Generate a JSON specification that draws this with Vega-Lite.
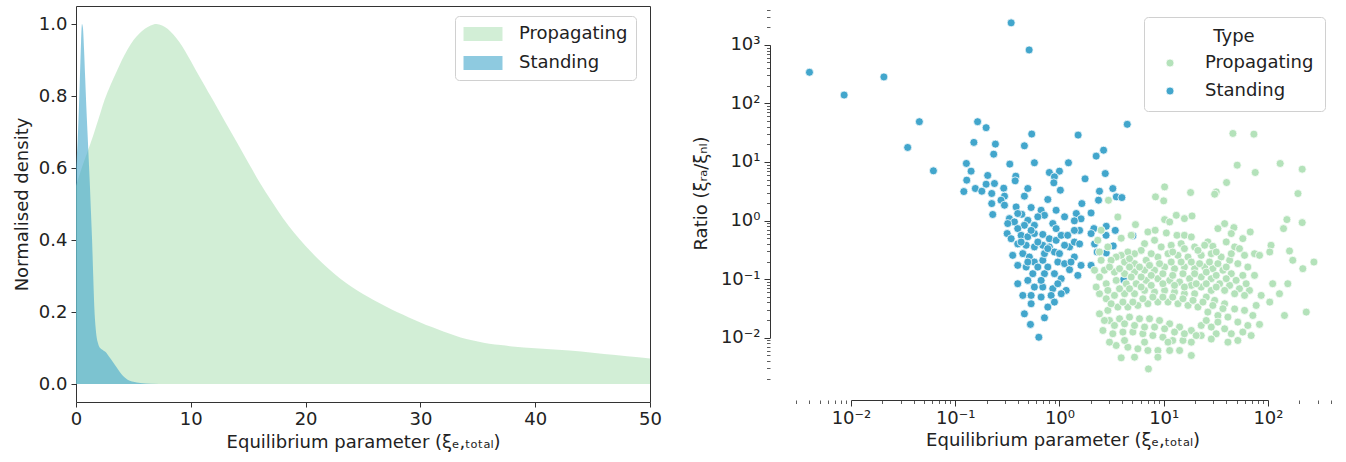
{
"$schema": "https://vega.github.io/schema/vega-lite/v6.json",
"padding": {"left": 12, "top": 0, "right": 5, "bottom": 2},
"bounds": "flush",
"spacing": 141,
"config": {
 "font": "DejaVu Sans",
 "axis": {"labelFont": "DejaVu Sans", "titleFont": "DejaVu Sans", "labelFontSize": 18, "titleFontSize": 18, "titleFontWeight": "normal", "labelColor": "#222", "titleColor": "#222", "tickColor": "#333", "domainColor": "#333", "grid": false, "labelFlush": false, "labelOverlap": false},
 "legend": {"labelFont": "DejaVu Sans", "titleFont": "DejaVu Sans", "labelFontSize": 18, "titleFontSize": 18, "titleFontWeight": "normal", "labelColor": "#222", "titleColor": "#222"}
},
"datasets": {
 "density": [
  {"x":0,"density":0.55,"Type":"Propagating"},{"x":0.5,"density":0.6,"Type":"Propagating"},{"x":1,"density":0.645,"Type":"Propagating"},{"x":1.5,"density":0.69,"Type":"Propagating"},{"x":2,"density":0.74,"Type":"Propagating"},{"x":2.5,"density":0.79,"Type":"Propagating"},{"x":3,"density":0.83,"Type":"Propagating"},{"x":3.5,"density":0.865,"Type":"Propagating"},{"x":4,"density":0.9,"Type":"Propagating"},{"x":4.5,"density":0.93,"Type":"Propagating"},{"x":5,"density":0.955,"Type":"Propagating"},{"x":5.5,"density":0.973,"Type":"Propagating"},{"x":6,"density":0.987,"Type":"Propagating"},{"x":6.5,"density":0.996,"Type":"Propagating"},{"x":7,"density":1.0,"Type":"Propagating"},{"x":7.5,"density":0.996,"Type":"Propagating"},{"x":8,"density":0.986,"Type":"Propagating"},{"x":8.5,"density":0.97,"Type":"Propagating"},{"x":9,"density":0.95,"Type":"Propagating"},{"x":9.5,"density":0.925,"Type":"Propagating"},{"x":10,"density":0.897,"Type":"Propagating"},{"x":10.5,"density":0.868,"Type":"Propagating"},{"x":11,"density":0.84,"Type":"Propagating"},{"x":11.5,"density":0.812,"Type":"Propagating"},{"x":12,"density":0.785,"Type":"Propagating"},{"x":13,"density":0.728,"Type":"Propagating"},{"x":14,"density":0.672,"Type":"Propagating"},{"x":15,"density":0.615,"Type":"Propagating"},{"x":16,"density":0.56,"Type":"Propagating"},{"x":17,"density":0.51,"Type":"Propagating"},{"x":18,"density":0.462,"Type":"Propagating"},{"x":19,"density":0.42,"Type":"Propagating"},{"x":20,"density":0.383,"Type":"Propagating"},{"x":21,"density":0.35,"Type":"Propagating"},{"x":22,"density":0.32,"Type":"Propagating"},{"x":23,"density":0.293,"Type":"Propagating"},{"x":24,"density":0.27,"Type":"Propagating"},{"x":25,"density":0.25,"Type":"Propagating"},{"x":26,"density":0.232,"Type":"Propagating"},{"x":27,"density":0.215,"Type":"Propagating"},{"x":28,"density":0.199,"Type":"Propagating"},{"x":29,"density":0.185,"Type":"Propagating"},{"x":30,"density":0.171,"Type":"Propagating"},{"x":31,"density":0.158,"Type":"Propagating"},{"x":32,"density":0.146,"Type":"Propagating"},{"x":33,"density":0.135,"Type":"Propagating"},{"x":34,"density":0.125,"Type":"Propagating"},{"x":35,"density":0.118,"Type":"Propagating"},{"x":36,"density":0.112,"Type":"Propagating"},{"x":37,"density":0.108,"Type":"Propagating"},{"x":38,"density":0.104,"Type":"Propagating"},{"x":40,"density":0.099,"Type":"Propagating"},{"x":42,"density":0.095,"Type":"Propagating"},{"x":44,"density":0.09,"Type":"Propagating"},{"x":46,"density":0.083,"Type":"Propagating"},{"x":48,"density":0.077,"Type":"Propagating"},{"x":50,"density":0.071,"Type":"Propagating"},
  {"x":0,"density":0.6,"Type":"Standing"},{"x":0.15,"density":0.68,"Type":"Standing"},{"x":0.3,"density":0.81,"Type":"Standing"},{"x":0.44,"density":0.95,"Type":"Standing"},{"x":0.52,"density":1.0,"Type":"Standing"},{"x":0.6,"density":0.99,"Type":"Standing"},{"x":0.7,"density":0.93,"Type":"Standing"},{"x":0.8,"density":0.85,"Type":"Standing"},{"x":0.9,"density":0.77,"Type":"Standing"},{"x":1.0,"density":0.7,"Type":"Standing"},{"x":1.1,"density":0.63,"Type":"Standing"},{"x":1.2,"density":0.56,"Type":"Standing"},{"x":1.3,"density":0.48,"Type":"Standing"},{"x":1.4,"density":0.4,"Type":"Standing"},{"x":1.5,"density":0.3,"Type":"Standing"},{"x":1.6,"density":0.21,"Type":"Standing"},{"x":1.7,"density":0.16,"Type":"Standing"},{"x":1.8,"density":0.13,"Type":"Standing"},{"x":1.9,"density":0.115,"Type":"Standing"},{"x":2.0,"density":0.105,"Type":"Standing"},{"x":2.3,"density":0.095,"Type":"Standing"},{"x":2.6,"density":0.088,"Type":"Standing"},{"x":2.9,"density":0.075,"Type":"Standing"},{"x":3.2,"density":0.062,"Type":"Standing"},{"x":3.5,"density":0.048,"Type":"Standing"},{"x":3.8,"density":0.034,"Type":"Standing"},{"x":4.1,"density":0.022,"Type":"Standing"},{"x":4.5,"density":0.012,"Type":"Standing"},{"x":5.0,"density":0.006,"Type":"Standing"},{"x":5.6,"density":0.003,"Type":"Standing"},{"x":6.5,"density":0.001,"Type":"Standing"},{"x":8,"density":0.0003,"Type":"Standing"},{"x":10,"density":0,"Type":"Standing"}
 ],
 "scatter": [
  {"x":0.004,"y":340,"Type":"Standing"},{"x":0.0086,"y":139,"Type":"Standing"},{"x":0.0207,"y":283,"Type":"Standing"},{"x":0.344,"y":2370,"Type":"Standing"},{"x":0.512,"y":818,"Type":"Standing"},
  {"x":0.0453,"y":48.7,"Type":"Standing"},{"x":0.164,"y":48.7,"Type":"Standing"},{"x":0.198,"y":38.5,"Type":"Standing"},{"x":0.035,"y":17.7,"Type":"Standing"},{"x":0.0618,"y":7.07,"Type":"Standing"},{"x":0.151,"y":21.6,"Type":"Standing"},{"x":0.243,"y":20.2,"Type":"Standing"},{"x":0.234,"y":13.6,"Type":"Standing"},{"x":0.542,"y":30.0,"Type":"Standing"},{"x":0.461,"y":18.9,"Type":"Standing"},
  {"x":1.51,"y":28.8,"Type":"Standing"},{"x":0.128,"y":9.44,"Type":"Standing"},{"x":0.142,"y":6.98,"Type":"Standing"},{"x":0.334,"y":9.2,"Type":"Standing"},{"x":0.575,"y":9.7,"Type":"Standing"},{"x":1.22,"y":9.7,"Type":"Standing"},{"x":0.8,"y":6.62,"Type":"Standing"},{"x":1.0,"y":6.98,"Type":"Standing"},{"x":0.895,"y":5.58,"Type":"Standing"},{"x":0.883,"y":4.41,"Type":"Standing"},
  {"x":0.381,"y":5.73,"Type":"Standing"},{"x":0.376,"y":4.77,"Type":"Standing"},{"x":0.129,"y":4.9,"Type":"Standing"},{"x":0.205,"y":5.89,"Type":"Standing"},{"x":0.198,"y":4.18,"Type":"Standing"},{"x":0.238,"y":4.29,"Type":"Standing"},{"x":0.156,"y":3.53,"Type":"Standing"},{"x":0.121,"y":3.13,"Type":"Standing"},{"x":0.18,"y":3.17,"Type":"Standing"},{"x":0.224,"y":2.9,"Type":"Standing"},
  {"x":0.292,"y":3.57,"Type":"Standing"},{"x":0.297,"y":2.61,"Type":"Standing"},{"x":0.224,"y":1.95,"Type":"Standing"},{"x":0.275,"y":2.23,"Type":"Standing"},{"x":0.497,"y":3.53,"Type":"Standing"},{"x":0.461,"y":2.61,"Type":"Standing"},{"x":0.773,"y":2.29,"Type":"Standing"},{"x":1.02,"y":3.3,"Type":"Standing"},{"x":1.76,"y":5.16,"Type":"Standing"},{"x":2.25,"y":12.6,"Type":"Standing"},
  {"x":2.42,"y":3.17,"Type":"Standing"},{"x":2.37,"y":2.23,"Type":"Standing"},{"x":1.64,"y":1.95,"Type":"Standing"},{"x":2.01,"y":1.35,"Type":"Standing"},{"x":1.45,"y":1.32,"Type":"Standing"},{"x":1.61,"y":1.07,"Type":"Standing"},{"x":1.39,"y":0.99,"Type":"Standing"},{"x":2.14,"y":0.73,"Type":"Standing"},{"x":2.01,"y":0.6,"Type":"Standing"},{"x":0.297,"y":1.83,"Type":"Standing"},
  {"x":0.384,"y":1.71,"Type":"Standing"},{"x":0.535,"y":1.67,"Type":"Standing"},{"x":0.667,"y":1.5,"Type":"Standing"},{"x":0.718,"y":1.23,"Type":"Standing"},{"x":0.62,"y":1.16,"Type":"Standing"},{"x":0.229,"y":1.27,"Type":"Standing"},{"x":0.331,"y":1.08,"Type":"Standing"},{"x":0.37,"y":0.95,"Type":"Standing"},{"x":0.435,"y":1.28,"Type":"Standing"},{"x":0.497,"y":1.01,"Type":"Standing"},
  {"x":0.461,"y":0.83,"Type":"Standing"},{"x":0.575,"y":0.83,"Type":"Standing"},{"x":0.863,"y":0.89,"Type":"Standing"},{"x":0.929,"y":0.73,"Type":"Standing"},{"x":1.12,"y":1.16,"Type":"Standing"},{"x":1.56,"y":0.68,"Type":"Standing"},{"x":0.315,"y":0.6,"Type":"Standing"},{"x":0.344,"y":0.49,"Type":"Standing"},{"x":0.398,"y":0.73,"Type":"Standing"},{"x":0.429,"y":0.56,"Type":"Standing"},
  {"x":0.497,"y":0.53,"Type":"Standing"},{"x":0.575,"y":0.6,"Type":"Standing"},{"x":0.692,"y":0.58,"Type":"Standing"},{"x":0.8,"y":0.49,"Type":"Standing"},{"x":0.929,"y":0.46,"Type":"Standing"},{"x":1.04,"y":0.56,"Type":"Standing"},{"x":1.2,"y":0.56,"Type":"Standing"},{"x":1.25,"y":0.355,"Type":"Standing"},{"x":1.12,"y":0.379,"Type":"Standing"},{"x":1.39,"y":0.43,"Type":"Standing"},
  {"x":1.56,"y":0.4,"Type":"Standing"},{"x":0.398,"y":0.4,"Type":"Standing"},{"x":0.479,"y":0.379,"Type":"Standing"},{"x":0.575,"y":0.355,"Type":"Standing"},{"x":0.692,"y":0.379,"Type":"Standing"},{"x":0.8,"y":0.355,"Type":"Standing"},{"x":0.895,"y":0.291,"Type":"Standing"},{"x":1.0,"y":0.273,"Type":"Standing"},{"x":1.39,"y":0.239,"Type":"Standing"},{"x":1.61,"y":0.172,"Type":"Standing"},
  {"x":2.01,"y":0.172,"Type":"Standing"},{"x":0.356,"y":0.255,"Type":"Standing"},{"x":0.445,"y":0.273,"Type":"Standing"},{"x":0.515,"y":0.239,"Type":"Standing"},{"x":0.575,"y":0.196,"Type":"Standing"},{"x":0.692,"y":0.21,"Type":"Standing"},{"x":0.773,"y":0.161,"Type":"Standing"},{"x":0.964,"y":0.196,"Type":"Standing"},{"x":1.12,"y":0.184,"Type":"Standing"},{"x":1.25,"y":0.145,"Type":"Standing"},
  {"x":1.5,"y":0.116,"Type":"Standing"},{"x":0.398,"y":0.172,"Type":"Standing"},{"x":0.479,"y":0.161,"Type":"Standing"},{"x":0.555,"y":0.124,"Type":"Standing"},{"x":0.718,"y":0.124,"Type":"Standing"},{"x":0.895,"y":0.124,"Type":"Standing"},{"x":1.04,"y":0.102,"Type":"Standing"},{"x":0.398,"y":0.0836,"Type":"Standing"},{"x":0.497,"y":0.0953,"Type":"Standing"},{"x":0.575,"y":0.0733,"Type":"Standing"},
  {"x":0.692,"y":0.0733,"Type":"Standing"},{"x":0.863,"y":0.0687,"Type":"Standing"},{"x":1.16,"y":0.0643,"Type":"Standing"},{"x":0.445,"y":0.0528,"Type":"Standing"},{"x":0.535,"y":0.0528,"Type":"Standing"},{"x":0.667,"y":0.0494,"Type":"Standing"},{"x":0.832,"y":0.0528,"Type":"Standing"},{"x":1.04,"y":0.0564,"Type":"Standing"},{"x":0.535,"y":0.038,"Type":"Standing"},{"x":0.895,"y":0.0406,"Type":"Standing"},
  {"x":0.773,"y":0.0334,"Type":"Standing"},{"x":0.461,"y":0.0256,"Type":"Standing"},{"x":0.718,"y":0.0219,"Type":"Standing"},{"x":0.527,"y":0.0169,"Type":"Standing"},{"x":0.634,"y":0.0102,"Type":"Standing"},{"x":0.429,"y":0.43,"Type":"Standing"},{"x":0.62,"y":0.43,"Type":"Standing"},{"x":0.718,"y":0.273,"Type":"Standing"},{"x":0.497,"y":0.196,"Type":"Standing"},{"x":0.667,"y":0.0953,"Type":"Standing"},
  {"x":0.964,"y":0.0836,"Type":"Standing"},{"x":1.29,"y":0.196,"Type":"Standing"},{"x":0.773,"y":0.332,"Type":"Standing"},{"x":0.535,"y":0.68,"Type":"Standing"},{"x":0.929,"y":1.5,"Type":"Standing"},{"x":0.398,"y":1.32,"Type":"Standing"},{"x":1.39,"y":0.68,"Type":"Standing"},{"x":0.62,"y":0.161,"Type":"Standing"},{"x":0.319,"y":0.89,"Type":"Standing"},
  {"x":2.65,"y":15.9,"Type":"Standing"},{"x":2.75,"y":6.35,"Type":"Standing"},{"x":3.25,"y":3.52,"Type":"Standing"},{"x":3.51,"y":2.54,"Type":"Standing"},{"x":3.97,"y":2.47,"Type":"Standing"},{"x":2.81,"y":0.8,"Type":"Standing"},{"x":3.43,"y":0.68,"Type":"Standing"},{"x":2.8,"y":0.56,"Type":"Standing"},{"x":5.06,"y":0.55,"Type":"Standing"},{"x":3.28,"y":0.37,"Type":"Standing"},{"x":2.3,"y":0.29,"Type":"Standing"},{"x":2.81,"y":0.28,"Type":"Standing"},{"x":4.12,"y":0.098,"Type":"Standing"},{"x":2.17,"y":0.4,"Type":"Standing"},{"x":4.47,"y":44,"Type":"Standing"},
  {"x":46.1,"y":30.7,"Type":"Propagating"},{"x":73.3,"y":29.9,"Type":"Propagating"},{"x":50.7,"y":8.83,"Type":"Propagating"},{"x":75.5,"y":6.62,"Type":"Propagating"},{"x":131,"y":9.42,"Type":"Propagating"},{"x":213,"y":7.54,"Type":"Propagating"},{"x":40.1,"y":4.46,"Type":"Propagating"},{"x":31.9,"y":3.09,"Type":"Propagating"},{"x":30.8,"y":2.82,"Type":"Propagating"},{"x":18.1,"y":3.01,"Type":"Propagating"},
  {"x":10.2,"y":3.76,"Type":"Propagating"},{"x":8.34,"y":2.54,"Type":"Propagating"},{"x":10.0,"y":2.17,"Type":"Propagating"},{"x":194,"y":2.89,"Type":"Propagating"},{"x":152,"y":1.04,"Type":"Propagating"},{"x":141,"y":0.729,"Type":"Propagating"},{"x":213,"y":0.923,"Type":"Propagating"},{"x":2.95,"y":2.22,"Type":"Propagating"},{"x":3.63,"y":1.15,"Type":"Propagating"},{"x":5.36,"y":0.853,"Type":"Propagating"},
  {"x":7.05,"y":0.64,"Type":"Propagating"},{"x":8.28,"y":0.684,"Type":"Propagating"},{"x":10.2,"y":1.04,"Type":"Propagating"},{"x":11.4,"y":0.948,"Type":"Propagating"},{"x":13.2,"y":1.23,"Type":"Propagating"},{"x":15.8,"y":1.08,"Type":"Propagating"},{"x":18.7,"y":1.2,"Type":"Propagating"},{"x":10.6,"y":0.615,"Type":"Propagating"},{"x":13.4,"y":0.561,"Type":"Propagating"},{"x":15.8,"y":0.561,"Type":"Propagating"},
  {"x":18.4,"y":0.526,"Type":"Propagating"},{"x":33.1,"y":0.729,"Type":"Propagating"},{"x":38.4,"y":0.887,"Type":"Propagating"},{"x":47.1,"y":0.759,"Type":"Propagating"},{"x":44.5,"y":0.6,"Type":"Propagating"},{"x":57.4,"y":0.492,"Type":"Propagating"},{"x":67.6,"y":0.64,"Type":"Propagating"},{"x":26.5,"y":0.432,"Type":"Propagating"},{"x":29.6,"y":0.364,"Type":"Propagating"},{"x":24.7,"y":0.379,"Type":"Propagating"},
  {"x":39.8,"y":0.432,"Type":"Propagating"},{"x":47.9,"y":0.355,"Type":"Propagating"},{"x":53.3,"y":0.332,"Type":"Propagating"},{"x":107,"y":0.379,"Type":"Propagating"},{"x":104,"y":0.291,"Type":"Propagating"},{"x":161,"y":0.303,"Type":"Propagating"},{"x":173,"y":0.21,"Type":"Propagating"},{"x":216,"y":0.151,"Type":"Propagating"},{"x":276,"y":0.196,"Type":"Propagating"},{"x":59.6,"y":0.255,"Type":"Propagating"},
  {"x":74.3,"y":0.272,"Type":"Propagating"},{"x":83.0,"y":0.255,"Type":"Propagating"},{"x":19.8,"y":0.355,"Type":"Propagating"},{"x":14.7,"y":0.404,"Type":"Propagating"},{"x":11.8,"y":0.379,"Type":"Propagating"},{"x":9.46,"y":0.355,"Type":"Propagating"},{"x":8.17,"y":0.461,"Type":"Propagating"},{"x":6.55,"y":0.404,"Type":"Propagating"},{"x":6.08,"y":0.31,"Type":"Propagating"},{"x":5.25,"y":0.272,"Type":"Propagating"},
  {"x":4.53,"y":0.291,"Type":"Propagating"},{"x":3.91,"y":0.255,"Type":"Propagating"},{"x":3.5,"y":0.239,"Type":"Propagating"},{"x":3.13,"y":0.21,"Type":"Propagating"},{"x":4.21,"y":0.196,"Type":"Propagating"},{"x":5.25,"y":0.184,"Type":"Propagating"},{"x":6.79,"y":0.21,"Type":"Propagating"},{"x":8.79,"y":0.239,"Type":"Propagating"},{"x":11.0,"y":0.272,"Type":"Propagating"},{"x":13.7,"y":0.255,"Type":"Propagating"},
  {"x":17.1,"y":0.239,"Type":"Propagating"},{"x":22.9,"y":0.255,"Type":"Propagating"},{"x":28.6,"y":0.272,"Type":"Propagating"},{"x":35.6,"y":0.239,"Type":"Propagating"},{"x":42.9,"y":0.21,"Type":"Propagating"},{"x":51.4,"y":0.184,"Type":"Propagating"},{"x":64.1,"y":0.161,"Type":"Propagating"},{"x":74.3,"y":0.116,"Type":"Propagating"},{"x":57.4,"y":0.116,"Type":"Propagating"},{"x":44.5,"y":0.124,"Type":"Propagating"},
  {"x":37.0,"y":0.142,"Type":"Propagating"},{"x":29.6,"y":0.151,"Type":"Propagating"},{"x":24.7,"y":0.161,"Type":"Propagating"},{"x":19.8,"y":0.151,"Type":"Propagating"},{"x":15.8,"y":0.161,"Type":"Propagating"},{"x":12.7,"y":0.151,"Type":"Propagating"},{"x":10.2,"y":0.161,"Type":"Propagating"},{"x":8.17,"y":0.142,"Type":"Propagating"},{"x":6.55,"y":0.142,"Type":"Propagating"},{"x":5.25,"y":0.132,"Type":"Propagating"},
  {"x":4.21,"y":0.124,"Type":"Propagating"},{"x":3.37,"y":0.132,"Type":"Propagating"},{"x":2.7,"y":0.142,"Type":"Propagating"},{"x":2.42,"y":0.109,"Type":"Propagating"},{"x":2.81,"y":0.0836,"Type":"Propagating"},{"x":3.5,"y":0.0953,"Type":"Propagating"},{"x":4.37,"y":0.0836,"Type":"Propagating"},{"x":5.45,"y":0.0836,"Type":"Propagating"},{"x":6.79,"y":0.0953,"Type":"Propagating"},{"x":8.79,"y":0.102,"Type":"Propagating"},
  {"x":11.4,"y":0.0953,"Type":"Propagating"},{"x":14.2,"y":0.0893,"Type":"Propagating"},{"x":17.7,"y":0.102,"Type":"Propagating"},{"x":22.9,"y":0.109,"Type":"Propagating"},{"x":28.6,"y":0.102,"Type":"Propagating"},{"x":34.4,"y":0.0836,"Type":"Propagating"},{"x":42.9,"y":0.0783,"Type":"Propagating"},{"x":53.3,"y":0.0687,"Type":"Propagating"},{"x":66.5,"y":0.0643,"Type":"Propagating"},{"x":86.1,"y":0.0528,"Type":"Propagating"},
  {"x":77.1,"y":0.0356,"Type":"Propagating"},{"x":104,"y":0.0406,"Type":"Propagating"},{"x":129,"y":0.0564,"Type":"Propagating"},{"x":155,"y":0.0836,"Type":"Propagating"},{"x":111,"y":0.0836,"Type":"Propagating"},{"x":144,"y":0.024,"Type":"Propagating"},{"x":233,"y":0.0274,"Type":"Propagating"},{"x":47.9,"y":0.031,"Type":"Propagating"},{"x":38.4,"y":0.038,"Type":"Propagating"},{"x":30.8,"y":0.0434,"Type":"Propagating"},
  {"x":25.6,"y":0.0494,"Type":"Propagating"},{"x":19.8,"y":0.0564,"Type":"Propagating"},{"x":15.8,"y":0.0564,"Type":"Propagating"},{"x":12.7,"y":0.0603,"Type":"Propagating"},{"x":10.2,"y":0.0643,"Type":"Propagating"},{"x":8.17,"y":0.0603,"Type":"Propagating"},{"x":6.55,"y":0.0643,"Type":"Propagating"},{"x":5.25,"y":0.0564,"Type":"Propagating"},{"x":4.21,"y":0.0564,"Type":"Propagating"},{"x":3.37,"y":0.0528,"Type":"Propagating"},
  {"x":2.81,"y":0.0463,"Type":"Propagating"},{"x":2.42,"y":0.0256,"Type":"Propagating"},{"x":2.91,"y":0.0293,"Type":"Propagating"},{"x":3.63,"y":0.0334,"Type":"Propagating"},{"x":4.53,"y":0.0334,"Type":"Propagating"},{"x":5.65,"y":0.0356,"Type":"Propagating"},{"x":7.05,"y":0.038,"Type":"Propagating"},{"x":8.79,"y":0.0406,"Type":"Propagating"},{"x":11.0,"y":0.0406,"Type":"Propagating"},{"x":13.7,"y":0.038,"Type":"Propagating"},
  {"x":17.1,"y":0.0356,"Type":"Propagating"},{"x":21.3,"y":0.0334,"Type":"Propagating"},{"x":26.5,"y":0.0274,"Type":"Propagating"},{"x":33.1,"y":0.024,"Type":"Propagating"},{"x":41.3,"y":0.0225,"Type":"Propagating"},{"x":51.4,"y":0.0185,"Type":"Propagating"},{"x":64.1,"y":0.0162,"Type":"Propagating"},{"x":83.0,"y":0.0169,"Type":"Propagating"},{"x":57.4,"y":0.0125,"Type":"Propagating"},{"x":38.4,"y":0.0142,"Type":"Propagating"},
  {"x":28.6,"y":0.0152,"Type":"Propagating"},{"x":22.9,"y":0.0162,"Type":"Propagating"},{"x":18.4,"y":0.0133,"Type":"Propagating"},{"x":14.2,"y":0.0152,"Type":"Propagating"},{"x":11.4,"y":0.0173,"Type":"Propagating"},{"x":9.12,"y":0.0197,"Type":"Propagating"},{"x":7.31,"y":0.0211,"Type":"Propagating"},{"x":5.86,"y":0.0211,"Type":"Propagating"},{"x":4.7,"y":0.0225,"Type":"Propagating"},{"x":3.77,"y":0.0211,"Type":"Propagating"},
  {"x":3.02,"y":0.0197,"Type":"Propagating"},{"x":2.61,"y":0.0133,"Type":"Propagating"},{"x":3.25,"y":0.0117,"Type":"Propagating"},{"x":4.06,"y":0.0125,"Type":"Propagating"},{"x":5.06,"y":0.0125,"Type":"Propagating"},{"x":6.31,"y":0.0117,"Type":"Propagating"},{"x":7.87,"y":0.0109,"Type":"Propagating"},{"x":9.82,"y":0.0102,"Type":"Propagating"},{"x":12.2,"y":0.00898,"Type":"Propagating"},{"x":15.3,"y":0.00898,"Type":"Propagating"},
  {"x":18.4,"y":0.00841,"Type":"Propagating"},{"x":22.9,"y":0.0109,"Type":"Propagating"},{"x":41.3,"y":0.00841,"Type":"Propagating"},{"x":51.4,"y":0.00898,"Type":"Propagating"},{"x":3.5,"y":0.00738,"Type":"Propagating"},{"x":4.53,"y":0.0069,"Type":"Propagating"},{"x":5.65,"y":0.00647,"Type":"Propagating"},{"x":7.05,"y":0.00606,"Type":"Propagating"},{"x":8.79,"y":0.00606,"Type":"Propagating"},{"x":3.91,"y":0.00454,"Type":"Propagating"},
  {"x":5.25,"y":0.00466,"Type":"Propagating"},{"x":8.79,"y":0.00466,"Type":"Propagating"},{"x":18.4,"y":0.00498,"Type":"Propagating"},{"x":7.14,"y":0.00294,"Type":"Propagating"},{"x":11.4,"y":0.00606,"Type":"Propagating"},{"x":14.2,"y":0.00606,"Type":"Propagating"},{"x":3.02,"y":0.00841,"Type":"Propagating"},{"x":33.1,"y":0.0185,"Type":"Propagating"},{"x":2.42,"y":0.0564,"Type":"Propagating"},{"x":18.4,"y":0.0783,"Type":"Propagating"},
  {"x":22.9,"y":0.0733,"Type":"Propagating"},{"x":28.6,"y":0.0643,"Type":"Propagating"},
  {"x":3.02,"y":0.161,"Type":"Propagating"},{"x":3.77,"y":0.151,"Type":"Propagating"},{"x":4.7,"y":0.161,"Type":"Propagating"},{"x":5.86,"y":0.161,"Type":"Propagating"},{"x":7.31,"y":0.172,"Type":"Propagating"},{"x":9.12,"y":0.184,"Type":"Propagating"},{"x":11.8,"y":0.196,"Type":"Propagating"},{"x":14.7,"y":0.196,"Type":"Propagating"},{"x":18.4,"y":0.196,"Type":"Propagating"},{"x":22.1,"y":0.184,"Type":"Propagating"},
  {"x":27.5,"y":0.196,"Type":"Propagating"},{"x":33.1,"y":0.184,"Type":"Propagating"},{"x":39.8,"y":0.161,"Type":"Propagating"},{"x":2.91,"y":0.0643,"Type":"Propagating"},{"x":3.77,"y":0.0687,"Type":"Propagating"},{"x":4.7,"y":0.0687,"Type":"Propagating"},{"x":6.08,"y":0.0733,"Type":"Propagating"},{"x":7.59,"y":0.0783,"Type":"Propagating"},{"x":9.82,"y":0.0836,"Type":"Propagating"},{"x":12.7,"y":0.0783,"Type":"Propagating"},
  {"x":15.8,"y":0.0733,"Type":"Propagating"},{"x":20.5,"y":0.0836,"Type":"Propagating"},{"x":25.6,"y":0.0836,"Type":"Propagating"},{"x":31.9,"y":0.0733,"Type":"Propagating"},{"x":38.4,"y":0.0643,"Type":"Propagating"},{"x":47.9,"y":0.0564,"Type":"Propagating"},{"x":59.6,"y":0.0528,"Type":"Propagating"},{"x":3.13,"y":0.038,"Type":"Propagating"},{"x":4.06,"y":0.0406,"Type":"Propagating"},{"x":5.06,"y":0.0406,"Type":"Propagating"},
  {"x":6.31,"y":0.0463,"Type":"Propagating"},{"x":7.87,"y":0.0494,"Type":"Propagating"},{"x":9.82,"y":0.0494,"Type":"Propagating"},{"x":12.2,"y":0.0494,"Type":"Propagating"},{"x":15.3,"y":0.0463,"Type":"Propagating"},{"x":19.1,"y":0.0434,"Type":"Propagating"},{"x":23.8,"y":0.0406,"Type":"Propagating"},{"x":29.6,"y":0.0356,"Type":"Propagating"},{"x":37.0,"y":0.0314,"Type":"Propagating"},{"x":59.6,"y":0.0293,"Type":"Propagating"},
  {"x":71.6,"y":0.024,"Type":"Propagating"},{"x":2.7,"y":0.0197,"Type":"Propagating"},{"x":3.37,"y":0.0162,"Type":"Propagating"},{"x":4.21,"y":0.0173,"Type":"Propagating"},{"x":5.25,"y":0.0162,"Type":"Propagating"},{"x":6.55,"y":0.0152,"Type":"Propagating"},{"x":8.17,"y":0.0152,"Type":"Propagating"},{"x":10.2,"y":0.0142,"Type":"Propagating"},{"x":12.7,"y":0.0125,"Type":"Propagating"},{"x":15.8,"y":0.0117,"Type":"Propagating"},
  {"x":20.5,"y":0.0109,"Type":"Propagating"},{"x":25.6,"y":0.0197,"Type":"Propagating"},{"x":31.9,"y":0.0117,"Type":"Propagating"},{"x":44.5,"y":0.0117,"Type":"Propagating"},{"x":69.0,"y":0.0109,"Type":"Propagating"},{"x":4.88,"y":0.109,"Type":"Propagating"},{"x":6.08,"y":0.109,"Type":"Propagating"},{"x":7.59,"y":0.116,"Type":"Propagating"},{"x":9.82,"y":0.124,"Type":"Propagating"},{"x":12.2,"y":0.116,"Type":"Propagating"},
  {"x":15.3,"y":0.124,"Type":"Propagating"},{"x":19.8,"y":0.124,"Type":"Propagating"},{"x":25.6,"y":0.132,"Type":"Propagating"},{"x":31.9,"y":0.116,"Type":"Propagating"},{"x":39.8,"y":0.102,"Type":"Propagating"},{"x":49.5,"y":0.0953,"Type":"Propagating"},{"x":61.8,"y":0.0836,"Type":"Propagating"},{"x":2.51,"y":0.21,"Type":"Propagating"},{"x":4.7,"y":0.224,"Type":"Propagating"},{"x":7.59,"y":0.272,"Type":"Propagating"},
  {"x":12.2,"y":0.291,"Type":"Propagating"},{"x":21.3,"y":0.31,"Type":"Propagating"},{"x":31.9,"y":0.291,"Type":"Propagating"},{"x":44.5,"y":0.272,"Type":"Propagating"},{"x":15.8,"y":0.332,"Type":"Propagating"},{"x":4.21,"y":0.00898,"Type":"Propagating"},{"x":6.55,"y":0.00841,"Type":"Propagating"},{"x":11.0,"y":0.00841,"Type":"Propagating"},{"x":28.6,"y":0.0095,"Type":"Propagating"},
  {"x":2.17,"y":0.142,"Type":"Propagating"},{"x":2.25,"y":0.0733,"Type":"Propagating"},{"x":2.33,"y":0.461,"Type":"Propagating"},{"x":2.91,"y":0.355,"Type":"Propagating"},{"x":3.91,"y":0.5,"Type":"Propagating"},{"x":4.88,"y":0.561,"Type":"Propagating"},{"x":2.51,"y":0.684,"Type":"Propagating"},{"x":2.42,"y":0.291,"Type":"Propagating"}
 ]
},
"resolve": {"scale": {"color": "independent"}, "legend": {"color": "independent"}},
"hconcat": [
 {
  "width": 574,
  "height": 396,
  "view": {"stroke": "#333", "strokeWidth": 1},
  "data": {"name": "density"},
  "mark": {"type": "area", "interpolate": "monotone", "opacity": 0.6},
  "encoding": {
   "x": {"field": "x", "type": "quantitative", "scale": {"domain": [0, 50], "nice": false, "zero": false},
     "axis": {"values": [0, 10, 20, 30, 40, 50], "domain": false, "tickSize": 5, "labelPadding": 3, "titlePadding": 5, "title": "Equilibrium parameter (ξₑ,ₜₒₜₐₗ)"}},
   "y": {"field": "density", "type": "quantitative", "stack": null, "scale": {"domain": [-0.05, 1.05], "nice": false, "zero": false},
     "axis": {"values": [0, 0.2, 0.4, 0.6, 0.8, 1.0], "format": ".1f", "domain": false, "tickSize": 5, "labelPadding": 4, "titlePadding": 7, "title": "Normalised density"}},
   "color": {"field": "Type", "type": "nominal",
     "scale": {"domain": ["Propagating", "Standing"], "range": ["#b4e2ba", "#42a6cc"]},
     "legend": {"orient": "none", "legendX": 379, "legendY": 10, "title": null, "symbolType": "M-2,-0.72H2V0.72H-2Z", "symbolSize": 380, "symbolOffset": 10, "symbolStrokeWidth": 0, "symbolOpacity": 0.6, "fillColor": "white", "strokeColor": "#d0d0d0", "cornerRadius": 4, "padding": 8, "labelOffset": 26, "rowPadding": 10}}
  }
 },
 {
  "width": 543,
  "height": 374,
  "view": {"stroke": null},
  "data": {"name": "scatter"},
  "mark": {"type": "point", "filled": true, "size": 64, "stroke": "white", "strokeWidth": 0.75, "opacity": 1},
  "encoding": {
   "x": {"field": "x", "type": "quantitative", "scale": {"type": "log", "domain": [0.00266, 430], "nice": false},
     "axis": {"offset": 20, "title": "Equilibrium parameter (ξₑ,ₜₒₜₐₗ)", "domainDash": [0, 60, 417, 2000],
       "values": [0.003,0.004,0.005,0.006,0.007,0.008,0.009,0.01,0.02,0.03,0.04,0.05,0.06,0.07,0.08,0.09,0.1,0.2,0.3,0.4,0.5,0.6,0.7,0.8,0.9,1,2,3,4,5,6,7,8,9,10,20,30,40,50,60,70,80,90,100,200,300,400],
       "labelExpr": "abs(log(datum.value)/LN10 - round(log(datum.value)/LN10)) < 0.01 ? '10' + (round(log(datum.value)/LN10) < 0 ? '⁻' : '') + ['⁰','¹','²','³','⁴'][abs(round(log(datum.value)/LN10))] : ''",
       "tickSize": {"condition": {"test": "abs(log(datum.value)/LN10 - round(log(datum.value)/LN10)) < 0.01", "value": 6}, "value": 3.5},
       "tickWidth": {"condition": {"test": "abs(log(datum.value)/LN10 - round(log(datum.value)/LN10)) < 0.01", "value": 1}, "value": 0.8},
       "labelPadding": 3, "titlePadding": 4}},
   "y": {"field": "y", "type": "quantitative", "scale": {"type": "log", "domain": [0.0019, 4600], "nice": false},
     "axis": {"offset": 21, "title": "Ratio (ξᵣₐ/ξₙₗ)", "domainDash": [0, 42.25, 292.9, 2000],
       "values": [0.002,0.003,0.004,0.005,0.006,0.007,0.008,0.009,0.01,0.02,0.03,0.04,0.05,0.06,0.07,0.08,0.09,0.1,0.2,0.3,0.4,0.5,0.6,0.7,0.8,0.9,1,2,3,4,5,6,7,8,9,10,20,30,40,50,60,70,80,90,100,200,300,400,500,600,700,800,900,1000,2000,3000,4000],
       "labelExpr": "abs(log(datum.value)/LN10 - round(log(datum.value)/LN10)) < 0.01 ? '10' + (round(log(datum.value)/LN10) < 0 ? '⁻' : '') + ['⁰','¹','²','³','⁴'][abs(round(log(datum.value)/LN10))] : ''",
       "tickSize": {"condition": {"test": "abs(log(datum.value)/LN10 - round(log(datum.value)/LN10)) < 0.01", "value": 6}, "value": 3.5},
       "tickWidth": {"condition": {"test": "abs(log(datum.value)/LN10 - round(log(datum.value)/LN10)) < 0.01", "value": 1}, "value": 0.8},
       "labelPadding": 4, "titlePadding": 10}},
   "color": {"field": "Type", "type": "nominal", "sort": null,
     "scale": {"domain": ["Propagating", "Standing"], "range": ["#b4e2ba", "#42a6cc"]},
     "legend": {"orient": "none", "legendX": 353, "legendY": 11, "title": "Type", "titleAnchor": "middle", "symbolType": "circle", "symbolSize": 64, "symbolStrokeColor": "white", "symbolStrokeWidth": 0.75, "symbolOffset": 6, "labelOffset": 26, "padding": 11, "rowPadding": 10, "titlePadding": 8, "fillColor": "white", "strokeColor": "#d0d0d0", "cornerRadius": 4}}
  }
 }
]
}
